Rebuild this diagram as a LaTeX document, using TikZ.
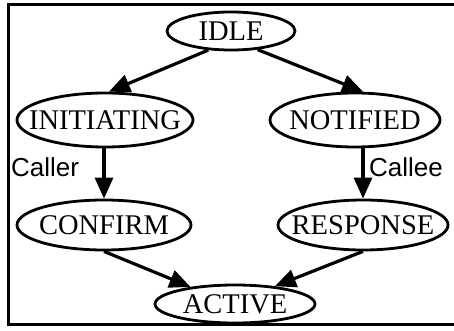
\documentclass[tikz,border=0pt]{standalone}
\usepackage{fontspec}
\setmainfont{Liberation Serif}
\newfontfamily\labelfont{Liberation Sans}
\usetikzlibrary{shapes.geometric,arrows.meta}
\newcommand{\fixt}[1]{\makebox[0pt]{#1}}
\tikzset{
  state/.style={ellipse, draw, line width=2.8pt, inner sep=0pt,
    font=\fontsize{28.5}{28.5}\selectfont},
  arr/.style={line width=3.2pt, -{Triangle[length=21pt,width=18pt]}},
  lbl/.style={font=\labelfont\fontsize{26}{26}\selectfont, inner sep=0pt}
}
\begin{document}
\begin{tikzpicture}[x=1pt,y=-1pt]
\useasboundingbox (0,0) rectangle (454,331);
\draw[line width=3pt] (456,5) -- (8,5) -- (8,324) -- (456,324);
\node[state, minimum width=128pt, minimum height=38pt] (idle) at (231,31) {\fixt{IDLE}};
\node[state, minimum width=176pt, minimum height=54pt] (init) at (105,120) {\fixt{INITIATING}};
\node[state, minimum width=170pt, minimum height=54pt] (notif) at (355,120) {\fixt{NOTIFIED}};
\node[state, minimum width=174pt, minimum height=50pt] (conf) at (104,225) {\fixt{CONFIRM}};
\node[state, minimum width=170pt, minimum height=50pt] (resp) at (363,225) {\fixt{RESPONSE}};
\node[state, minimum width=160pt, minimum height=38pt] (active) at (235,304) {\fixt{ACTIVE}};
\draw[arr] (idle.220) -- (init.82);
\draw[arr] (idle.325) -- (notif.74);
\draw[arr] (init.south -| conf.north) -- (conf.north);
\draw[arr] (notif.south -| resp.north) -- (resp.north);
\draw[arr] (conf.south) -- (active.159);
\draw[arr] (resp.south) -- (active.24);
\node[lbl, anchor=west] (caller) at (11,167) {Caller};
\node[lbl, anchor=west] (callee) at (369,167) {Callee};
\end{tikzpicture}
\end{document}
